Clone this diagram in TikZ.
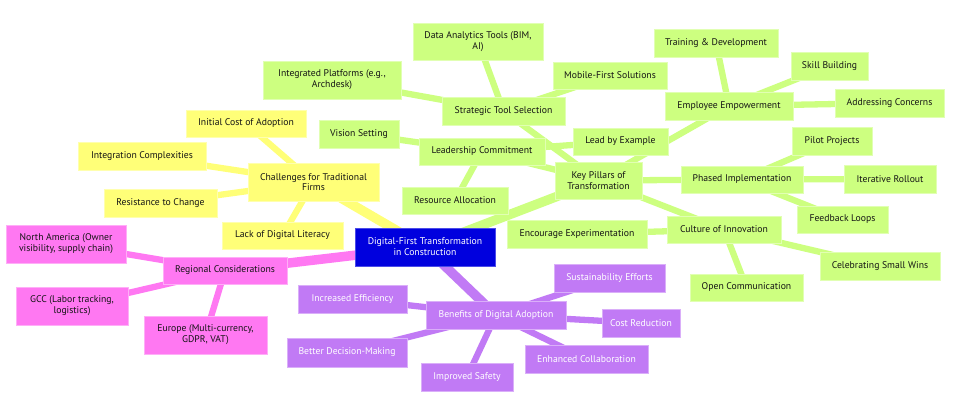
\documentclass[tikz,border=0pt]{standalone}
\usepackage{fontspec}
\setmainfont{PT Sans}
\usetikzlibrary{backgrounds}
\definecolor{cRoot}{RGB}{0,0,222}
\definecolor{cYel}{RGB}{255,255,120}
\definecolor{cGrn}{RGB}{205,255,128}
\definecolor{cPnk}{RGB}{255,120,242}
\definecolor{cPur}{RGB}{193,122,245}
\definecolor{cTxt}{RGB}{20,20,20}
\tikzset{
  box/.style={rectangle, inner sep=0pt, align=center, font=\fontsize{9.7}{10.8}\selectfont, text=cTxt},
  rootbox/.style={box, fill=cRoot, draw=cRoot!70!white, line width=0.6pt, text=white},
  ybox/.style={box, fill=cYel, draw=cYel!60!white, line width=0.6pt},
  gbox/.style={box, fill=cGrn, draw=cGrn!60!white, line width=0.6pt},
  pbox/.style={box, fill=cPnk, draw=cPnk!60!white, line width=0.6pt},
  ubox/.style={box, fill=cPur, draw=cPur!60!white, line width=0.6pt, text=white},
  e1/.style={line width=9.5pt},
  e2/.style={line width=6.3pt},
}
\newcommand\nd[7]{\node[#1, minimum width={(#5-#3)*1pt}, minimum height={(#6-#4)*1pt}] (#2) at ({(#3+#5)/2},{(#4+#6)/2}) {#7};}
\begin{document}
\begin{tikzpicture}[x=1pt,y=-1pt]
\useasboundingbox (0,0) rectangle (956,400);
% root
\nd{rootbox}{root}{355}{228}{495}{266}{Digital-First Transformation\\in Construction}
% challenges
\nd{ybox}{chal}{248}{163}{379}{201}{Challenges for Traditional\\Firms}
\nd{ybox}{init}{186}{110}{306}{137}{Initial Cost of Adoption}
\nd{ybox}{integ}{78}{142}{206}{170}{Integration Complexities}
\nd{ybox}{resist}{104}{189}{217}{217}{Resistance to Change}
\nd{ybox}{lack}{222}{222}{343}{249}{Lack of Digital Literacy}
% key pillars
\nd{gbox}{key}{555}{162}{642}{199}{Key Pillars of\\Transformation}
\nd{gbox}{strat}{442}{97}{565}{125}{Strategic Tool Selection}
\nd{gbox}{data}{413}{23}{543}{60}{Data Analytics Tools (BIM,\\AI)}
\nd{gbox}{intp}{263}{61}{401}{99}{Integrated Platforms (e.g.,\\Archdesk)}
\nd{gbox}{mobile}{553}{62}{667}{89}{Mobile-First Solutions}
\nd{gbox}{lead}{419}{138}{545}{165}{Leadership Commitment}
\nd{gbox}{vision}{319}{120}{399}{148}{Vision Setting}
\nd{gbox}{resource}{402}{187}{508}{214}{Resource Allocation}
\nd{gbox}{example}{573}{128}{668}{155}{Lead by Example}
\nd{gbox}{emp}{665}{92}{793}{120}{Employee Empowerment}
\nd{gbox}{train}{654}{29}{778}{57}{Training \& Development}
\nd{gbox}{skill}{791}{52}{868}{80}{Skill Building}
\nd{gbox}{address}{835}{89}{944}{117}{Addressing Concerns}
\nd{gbox}{phased}{681}{166}{803}{193}{Phased Implementation}
\nd{gbox}{pilot}{792}{127}{872}{155}{Pilot Projects}
\nd{gbox}{iter}{844}{165}{936}{193}{Iterative Rollout}
\nd{gbox}{feedback}{797}{206}{888}{233}{Feedback Loops}
\nd{gbox}{culture}{667}{216}{781}{243}{Culture of Innovation}
\nd{gbox}{encourage}{507}{220}{647}{248}{Encourage Experimentation}
\nd{gbox}{open}{690}{274}{803}{301}{Open Communication}
\nd{gbox}{celeb}{820}{252}{940}{280}{Celebrating Small Wins}
% regional
\nd{pbox}{reg}{163}{257}{287}{284}{Regional Considerations}
\nd{pbox}{na}{6}{225}{126}{263}{North America (Owner\\visibility, supply chain)}
\nd{pbox}{gcc}{16}{287}{128}{325}{GCC (Labor tracking,\\logistics)}
\nd{pbox}{europe}{144}{316}{267}{354}{Europe (Multi-currency,\\GDPR, VAT)}
% benefits
\nd{ubox}{ben}{426}{301}{566}{329}{Benefits of Digital Adoption}
\nd{ubox}{incr}{298}{285}{407}{313}{Increased Efficiency}
\nd{ubox}{better}{287}{338}{407}{367}{Better Decision-Making}
\nd{ubox}{safety}{421}{363}{513}{391}{Improved Safety}
\nd{ubox}{collab}{525}{345}{648}{373}{Enhanced Collaboration}
\nd{ubox}{cost}{602}{309}{680}{337}{Cost Reduction}
\nd{ubox}{sust}{554}{264}{665}{292}{Sustainability Efforts}
\begin{scope}[on background layer]
\fill[white] (0,0) rectangle (956,400);
% root edges
\draw[e1, cYel] (root.center) -- (chal.center);
\draw[e1, cGrn] (root.center) -- (key.center);
\draw[e1, cPnk] (root.center) -- (reg.center);
\draw[e1, cPur] (root.center) -- (ben.center);
% challenges
\foreach \n in {init,integ,resist,lack} \draw[e2, cYel] (chal.center) -- (\n.center);
% key pillars
\foreach \n in {strat,lead,emp,phased,culture} \draw[e2, cGrn] (key.center) -- (\n.center);
\foreach \n in {data,intp,mobile} \draw[e2, cGrn] (strat.center) -- (\n.center);
\foreach \n in {vision,resource,example} \draw[e2, cGrn] (lead.center) -- (\n.center);
\foreach \n in {train,skill,address} \draw[e2, cGrn] (emp.center) -- (\n.center);
\foreach \n in {pilot,iter,feedback} \draw[e2, cGrn] (phased.center) -- (\n.center);
\foreach \n in {encourage,open,celeb} \draw[e2, cGrn] (culture.center) -- (\n.center);
% regional
\foreach \n in {na,gcc,europe} \draw[e2, cPnk] (reg.center) -- (\n.center);
% benefits
\foreach \n in {incr,better,safety,collab,cost,sust} \draw[e2, cPur] (ben.center) -- (\n.center);
\end{scope}
\end{tikzpicture}
\end{document}
